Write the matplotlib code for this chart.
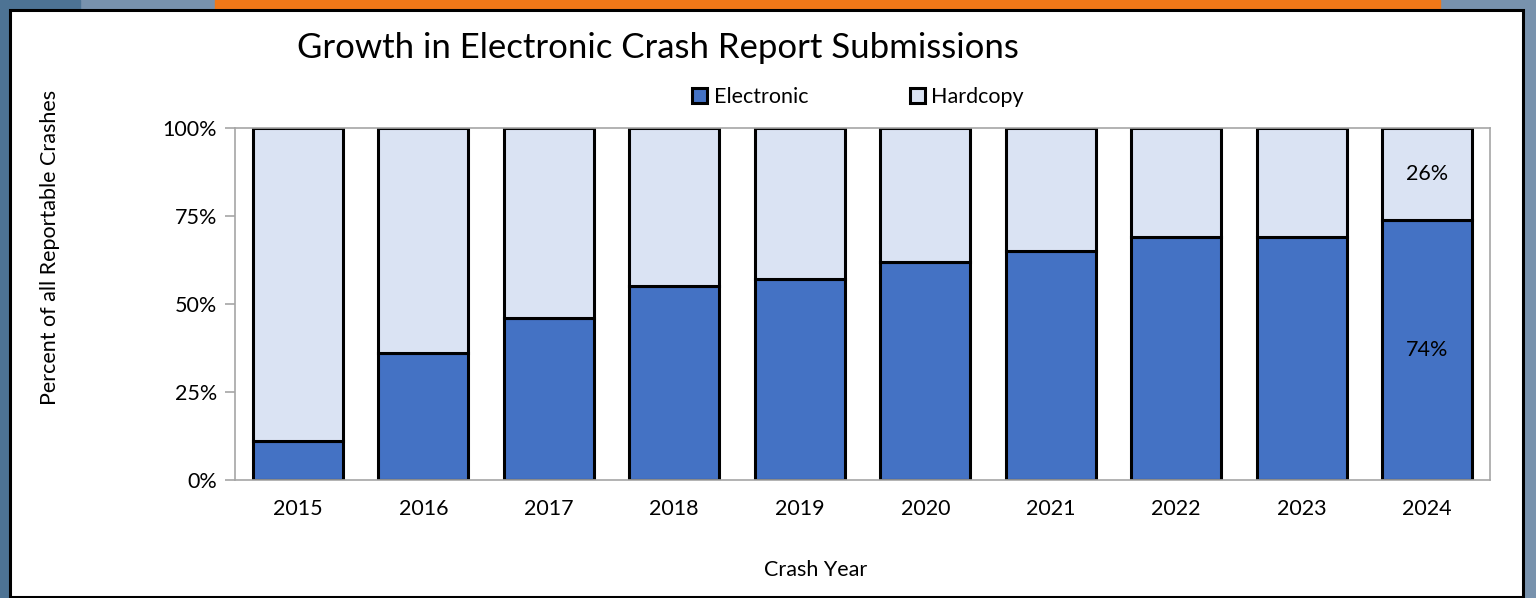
import numpy as np
import matplotlib.pyplot as plt
from matplotlib.patches import Rectangle
from matplotlib.ticker import PercentFormatter

years = ['2015', '2016', '2017', '2018', '2019', '2020', '2021', '2022', '2023', '2024']
electronic = [11, 36, 46, 55, 57, 62, 65, 69, 69, 74]
hardcopy = [100 - e for e in electronic]

plt.rcParams['font.family'] = ['Lato', 'DejaVu Sans']
fs = 15.5

W, H = 1536, 598
fig = plt.figure(figsize=(W / 100, H / 100), dpi=100)
fig.patch.set_facecolor('#7892ad')

# background bits around the white panel
fig.patches.append(Rectangle((0, 0), 80 / W, 1, transform=fig.transFigure, color='#4d7394', zorder=0))
fig.patches.append(Rectangle((215 / W, 1 - 10 / H), (1440 - 215) / W, 10 / H, transform=fig.transFigure, color='#f07818', zorder=0))
fig.patches.append(Rectangle((10 / W, 1 - 597 / H), (1523 - 10) / W, (597 - 10) / H, transform=fig.transFigure,
                             facecolor='white', edgecolor='black', lw=2.2, zorder=1))

ax = fig.add_axes([235 / W, 1 - 480 / H, (1490 - 235) / W, (480 - 128) / H])
ax.set_zorder(2)
ax.patch.set_alpha(0)

x = np.arange(len(years))
ax.bar(x, electronic, width=0.72, color='#4472c4', edgecolor='black', lw=2.2, label='Electronic')
ax.bar(x, hardcopy, width=0.72, bottom=electronic, color='#dae3f3', edgecolor='black', lw=2.2, label='Hardcopy')

ax.text(x[-1], electronic[-1] / 2, '74%', ha='center', va='center', fontsize=fs)
ax.text(x[-1], electronic[-1] + hardcopy[-1] / 2, '26%', ha='center', va='center', fontsize=fs)

ax.set_xlim(-0.5, len(years) - 0.5)
ax.set_ylim(0, 100)
ax.set_yticks([0, 25, 50, 75, 100])
ax.yaxis.set_major_formatter(PercentFormatter(decimals=0))
ax.set_xticks(x)
ax.set_xticklabels(years)
ax.tick_params(axis='x', length=0, pad=14, labelsize=fs)
ax.tick_params(axis='y', length=7, width=1.2, color='#a6a6a6', pad=6, labelsize=fs)
for s in ax.spines.values():
    s.set_color('#a6a6a6')
    s.set_linewidth(1.2)

fig.text(816 / W, 1 - 570 / H, 'Crash Year', ha='center', va='center', fontsize=fs)
fig.text(50 / W, 1 - 247 / H, 'Percent of all Reportable Crashes', ha='center', va='center', rotation=90, fontsize=fs)
fig.text(297 / W, 1 - 48 / H, 'Growth in Electronic Crash Report Submissions', ha='left', va='center', fontsize=25)

leg = ax.legend(loc='center', bbox_to_anchor=((858 - 235) / (1490 - 235), 1 + 31 / 352), ncol=2, frameon=False,
                fontsize=fs, handlelength=0.7, handleheight=0.7, handletextpad=0.3, columnspacing=4.7)

fig.savefig('out.png', dpi=100, facecolor=fig.get_facecolor())
